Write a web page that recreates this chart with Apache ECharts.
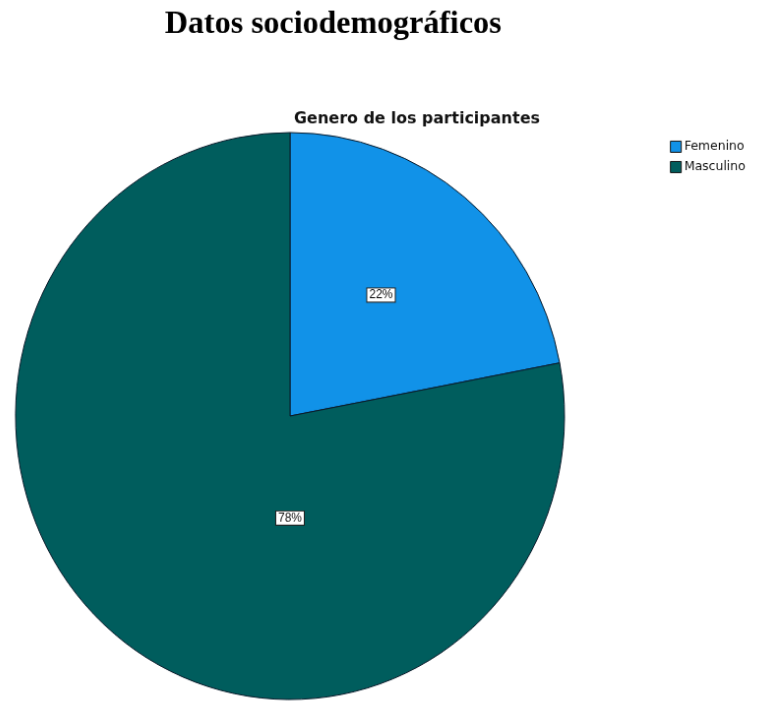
<!DOCTYPE html>
<html>
<head>
<meta charset="utf-8">
<script src="https://cdn.jsdelivr.net/npm/echarts@6/dist/echarts.min.js"></script>
<style>
  html, body { margin: 0; padding: 0; background: #fff; overflow: hidden; }
  #chart { width: 761px; height: 701px; }
</style>
</head>
<body>
<div id="chart"></div>
<script>
// Gender distribution of participants (percent)
const categories = ['Femenino', 'Masculino'];
const values = [22, 78];
const sliceColors = ['#1192e8', '#005d5d'];

// The pie is drawn slightly oval: the chart canvas is scaled around the pie centre.
const pieCenter = [290, 416];
const pieRadius = 279;
const sx = 274.5 / pieRadius;
const sy = 283.5 / pieRadius;
const el = document.getElementById('chart');
el.style.transformOrigin = pieCenter[0] + 'px ' + pieCenter[1] + 'px';
el.style.transform = 'scale(' + sx + ',' + sy + ')';

// screen position -> position before scaling
const ix = x => pieCenter[0] + (x - pieCenter[0]) / sx;
const iy = y => pieCenter[1] + (y - pieCenter[1]) / sy;

// label anchor offsets from the pie centre (screen pixels), per slice
const labelOffsets = [[91, -121], [0, 102]];

const chart = echarts.init(el);
chart.setOption({
  backgroundColor: '#ffffff',
  animation: false,
  title: [
    {
      text: 'Datos sociodemográficos',
      left: ix(160),
      top: iy(3),
      textStyle: { fontFamily: 'Liberation Serif', fontWeight: 'bold', fontSize: 32.5, color: '#000' }
    },
    {
      text: 'Genero de los participantes',
      left: ix(289),
      top: iy(106),
      textStyle: { fontFamily: 'DejaVu Sans', fontWeight: 'bold', fontSize: 16, color: '#111' }
    }
  ],
  legend: {
    orient: 'vertical',
    left: ix(665),
    top: iy(135),
    itemWidth: 11,
    itemHeight: 11,
    itemGap: 7,
    icon: 'rect',
    data: categories,
    itemStyle: { borderColor: '#1a1a1a', borderWidth: 1 },
    textStyle: { fontFamily: 'DejaVu Sans', fontSize: 12.5, color: '#111', padding: [0, 0, 0, -2] }
  },
  series: [{
    type: 'pie',
    center: pieCenter,
    radius: pieRadius,
    startAngle: 90,
    clockwise: true,
    silent: true,
    itemStyle: { borderColor: '#0a1a2a', borderWidth: 1 },
    label: {
      show: true,
      position: 'inside',
      formatter: p => p.value + '%',
      fontFamily: 'Liberation Sans',
      fontSize: 12,
      color: '#111',
      backgroundColor: '#fff',
      borderColor: '#222',
      borderWidth: 1,
      padding: [1, 2, 0, 2]
    },
    labelLayout: p => ({
      x: pieCenter[0] + labelOffsets[p.dataIndex][0] / sx,
      y: pieCenter[1] + labelOffsets[p.dataIndex][1] / sy,
      align: 'center',
      verticalAlign: 'middle'
    }),
    data: categories.map((name, i) => ({
      name,
      value: values[i],
      itemStyle: { color: sliceColors[i] }
    }))
  }]
});
</script>
</body>
</html>
